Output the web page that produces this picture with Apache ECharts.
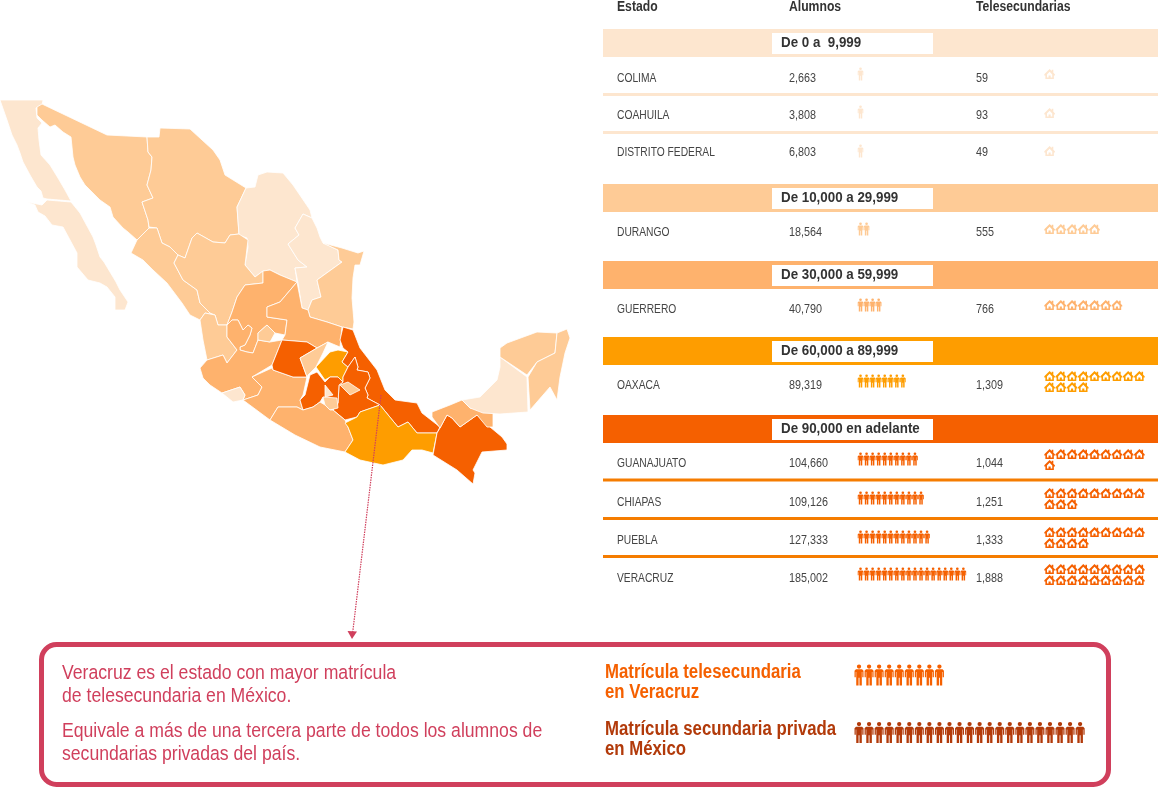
<!DOCTYPE html>
<html><head><meta charset="utf-8">
<style>html,body{margin:0;padding:0;background:#fff}#c{width:1159px;height:790px}</style>
<script src="https://cdn.jsdelivr.net/npm/echarts@6/dist/echarts.min.js"></script>
</head><body><div id="c"></div>
<script>
// ---------- data ----------
const bandLabels = ['De 0 a  9,999','De 10,000 a 29,999','De 30,000 a 59,999','De 60,000 a 89,999','De 90,000 en adelante'];
const bandColors = ['#FDE6CF','#FECB96','#FEB26D','#FE9D00','#F56000'];
const rowStates  = ['COLIMA','COAHUILA','DISTRITO FEDERAL','DURANGO','GUERRERO','OAXACA','GUANAJUATO','CHIAPAS','PUEBLA','VERACRUZ'];
const rowAlumnos = [2663,3808,6803,18564,40790,89319,104660,109126,127333,185002];
const rowTeles   = [59,93,49,555,766,1309,1044,1251,1333,1888];
const rowBand    = [0,0,0,1,2,3,4,4,4,4];
const peopleIcons= [1,1,1,2,4,8,10,11,12,18];
const houseIcons = [1,1,1,5,7,13,10,12,13,18];
const headers    = ['Estado','Alumnos','Telesecundarias'];
const calloutPeople = [9,23];

// state outlines (map geometry) and class index of each state
const stateShapes = {
 'Baja California':[[0,100],[43,100],[42,105],[36,108],[37,118],[42,123],[38,128],[39,140],[41,155],[50,165],[58,178],[65,190],[71,201],[47,199],[43,198],[41,191],[37,187],[30,175],[23,162],[20,153],[17,145],[12,135],[7,120]],
 'Baja California Sur':[[27,202],[35,205],[38,212],[45,216],[52,225],[63,227],[70,240],[77,253],[77,267],[88,280],[100,283],[107,287],[115,297],[115,310],[125,310],[128,302],[120,290],[116,282],[110,272],[104,262],[100,257],[96,245],[93,237],[80,213],[71,202],[47,200],[42,205]],
 'Sonora':[[37,107],[42,104],[107,135],[147,137],[148,152],[152,157],[151,170],[147,185],[153,198],[142,202],[148,220],[149,228],[137,240],[128,232],[123,228],[113,217],[110,207],[100,200],[93,193],[85,185],[80,177],[75,165],[73,157],[71,137],[63,132],[55,125],[50,127],[42,120],[37,115]],
 'Chihuahua':[[147,137],[159,137],[160,128],[190,129],[213,150],[220,160],[225,175],[246,188],[237,207],[239,234],[230,235],[225,243],[213,242],[197,233],[192,238],[185,258],[178,255],[170,247],[162,243],[157,228],[149,227],[148,220],[142,202],[153,198],[147,185],[151,170],[152,157],[148,152]],
 'Coahuila':[[246,188],[237,207],[239,235],[247,238],[248,247],[245,265],[255,277],[263,271],[270,270],[280,275],[297,282],[295,268],[307,267],[298,260],[288,244],[299,235],[295,228],[303,214],[312,218],[310,210],[293,185],[283,173],[267,172],[258,175],[255,187]],
 'Nuevo León':[[303,214],[312,218],[317,228],[320,237],[323,243],[338,250],[339,260],[342,262],[328,272],[317,280],[321,297],[312,300],[308,310],[302,308],[298,283],[295,268],[307,267],[298,260],[288,244],[299,235],[295,228]],
 'Tamaulipas':[[323,243],[342,248],[358,253],[364,251],[360,265],[355,265],[353,278],[352,298],[354,322],[353,329],[342,327],[327,322],[310,317],[308,310],[312,300],[321,297],[317,280],[342,262],[339,260],[338,250]],
 'Sinaloa':[[137,240],[131,253],[143,260],[153,270],[167,283],[182,303],[190,315],[200,320],[205,313],[215,315],[210,313],[200,303],[197,290],[190,285],[183,280],[174,263],[178,255],[170,247],[162,243],[157,228],[149,228]],
 'Durango':[[185,258],[192,238],[197,233],[213,242],[225,243],[230,235],[239,234],[248,240],[245,265],[255,277],[263,271],[263,283],[245,285],[237,297],[232,312],[227,325],[218,325],[215,315],[210,313],[200,303],[197,290],[190,285],[183,280],[174,263],[178,255]],
 'Nayarit':[[200,320],[205,313],[215,315],[218,325],[227,325],[227,337],[237,350],[227,363],[223,355],[207,360],[203,340]],
 'Zacatecas':[[263,271],[270,270],[280,275],[297,282],[280,302],[267,307],[267,317],[287,320],[285,335],[275,333],[267,325],[258,333],[258,340],[253,353],[247,352],[240,350],[240,347],[245,345],[250,335],[252,328],[248,325],[243,330],[238,320],[232,320],[227,325],[232,312],[237,297],[245,285],[263,283]],
 'San Luis Potosí':[[297,282],[298,283],[302,308],[308,310],[310,317],[327,322],[342,327],[340,347],[328,342],[317,348],[307,342],[282,340],[285,335],[287,320],[267,317],[267,307],[280,302]],
 'Jalisco':[[200,368],[207,360],[223,355],[227,363],[237,350],[227,337],[227,325],[232,320],[238,320],[243,330],[248,325],[252,328],[250,335],[245,345],[240,347],[240,350],[247,352],[253,353],[258,340],[270,342],[282,340],[272,365],[252,377],[262,387],[258,395],[243,400],[245,395],[240,387],[222,393],[210,385],[203,378]],
 'Colima':[[222,393],[240,387],[245,395],[243,400],[233,402]],
 'Michoacán':[[252,377],[272,368],[273,370],[293,377],[307,377],[303,395],[300,400],[303,410],[297,407],[278,407],[270,420],[243,400],[258,395],[262,387]],
 'Guanajuato':[[282,340],[272,365],[273,370],[293,377],[307,377],[300,358],[317,348],[307,342]],
 'Querétaro':[[300,358],[317,348],[328,342],[323,353],[316,367],[308,375],[307,377]],
 'Hidalgo':[[316,367],[330,352],[338,350],[348,352],[342,362],[348,367],[343,377],[343,382],[338,377],[330,377],[325,380]],
 'Veracruz':[[343,327],[353,330],[360,348],[377,370],[385,390],[395,400],[417,403],[422,413],[440,427],[437,433],[417,433],[408,422],[398,427],[380,405],[367,398],[368,395],[365,388],[370,378],[368,372],[357,370],[358,367],[355,357],[348,367],[342,362],[348,352],[343,348],[340,340]],
 'Puebla':[[348,367],[355,357],[358,367],[357,370],[368,372],[370,378],[365,388],[368,395],[367,398],[380,405],[360,412],[357,417],[345,420],[333,410],[338,403],[339,385],[343,382],[343,377]],
 'México':[[300,400],[305,395],[310,375],[317,372],[325,382],[330,377],[338,377],[343,382],[339,385],[338,403],[333,410],[330,400],[323,397],[320,402],[313,407],[303,410]],
 'Distrito Federal':[[325,385],[333,395],[325,397]],
 'Morelos':[[323,397],[337,398],[338,408],[330,410],[325,405]],
 'Tlaxcala':[[340,385],[348,382],[360,390],[350,395]],
 'Aguascalientes':[[258,333],[267,325],[275,333],[270,342],[258,340]],
 'Guerrero':[[270,420],[278,407],[297,407],[303,410],[313,407],[320,402],[325,405],[330,410],[333,410],[345,420],[348,427],[353,440],[345,452],[320,447],[295,435]],
 'Oaxaca':[[345,423],[357,417],[360,412],[380,405],[398,427],[408,422],[417,433],[437,433],[433,453],[422,450],[412,450],[403,460],[383,465],[360,460],[345,452],[353,440],[348,427]],
 'Chiapas':[[437,433],[440,428],[447,415],[452,418],[460,427],[477,415],[490,427],[502,437],[507,444],[507,450],[482,452],[473,470],[475,473],[473,484],[457,470],[433,455]],
 'Tabasco':[[432,412],[450,405],[462,400],[470,408],[483,410],[493,410],[493,427],[487,427],[477,415],[460,427],[452,418],[447,415],[440,428],[432,417]],
 'Campeche':[[500,357],[527,377],[528,412],[500,414],[483,413],[470,408],[462,400],[480,397],[497,380],[500,367]],
 'Yucatán':[[500,348],[507,343],[537,332],[557,333],[555,353],[537,362],[527,375],[500,357]],
 'Quintana Roo':[[557,333],[567,329],[570,338],[565,353],[560,377],[557,400],[550,387],[530,410],[528,377],[537,362],[555,353]]
};
const stateClass = {'Baja California':0,'Baja California Sur':0,'Sonora':1,'Chihuahua':1,'Coahuila':0,'Nuevo León':0,'Tamaulipas':1,'Sinaloa':1,'Durango':1,'Nayarit':1,'Zacatecas':2,'San Luis Potosí':2,'Jalisco':2,'Colima':0,'Michoacán':2,'Guanajuato':4,'Querétaro':1,'Hidalgo':3,'Veracruz':4,'Puebla':4,'México':4,'Distrito Federal':0,'Morelos':1,'Tlaxcala':1,'Aguascalientes':1,'Guerrero':2,'Oaxaca':3,'Chiapas':4,'Tabasco':2,'Campeche':0,'Yucatán':1,'Quintana Roo':1};

// ---------- layout ----------
const FONT = '"Liberation Sans",Arial,sans-serif';
const rowY = [77,114,151,231,308,384,462,501,539,577];
const peopleY = [74,112,151,229,305,381,459,498,537,574];
const houseY = [74,113,151,229,305,376,454,493,532,569];
const bandY = [29,184,261,337,415];
const sepY = [[94.5,0],[132.5,0],[480,4],[518.5,4],[556.5,4]];
const CRIMSON = '#D03F5C';
const PERSON = 'path://M5 0a2.4 2.4 0 1 1 -0.01 0zM1.6 5.4H8.4L10 7V14.5H8.6V8.6H8.1V24H5.5V15H4.5V24H1.9V8.6H1.4V14.5H0V7Z';
const HOUSE = 'path://M0 9.5L10 0L14 3.8V1.5H17V6.6L20 9.5V11.5H18V18H2V11.5H0ZM5 10V15.5H8V11.5H12V15.5H15V10L10 5Z';

const gfx = [];
function txt(x,y,s,o){gfx.push({type:'text',x,y:y+1,scaleX:o.sx,z:5,style:{text:s,x:0,y:0,fill:o.c||'#444',font:(o.b?'bold ':'')+o.s+'px '+FONT,textAlign:'left',textVerticalAlign:'middle'}});}
function rect(x,y,w,h,c){gfx.push({type:'rect',z:1,shape:{x,y,width:w,height:h},style:{fill:c}});}

headers.forEach((h,i)=>txt([617,789,976][i],6,h,{b:1,s:14,sx:.87,c:'#333'}));
bandLabels.forEach((l,i)=>{rect(603,bandY[i],555,28,bandColors[i]);rect(772,bandY[i]+4,161,21,'#fff');txt(781,bandY[i]+13,l,{b:1,s:15,sx:.89,c:'#333'});});
sepY.forEach(s=>rect(603,s[0]-1.5,555,3,s[1]==4?'#F57C00':bandColors[0]));
rowStates.forEach((n,i)=>{txt(617,rowY[i],n,{s:13.5,sx:.76});txt(789,rowY[i],rowAlumnos[i].toLocaleString('en-US'),{s:13.5,sx:.8});txt(976,rowY[i],rowTeles[i].toLocaleString('en-US'),{s:13.5,sx:.8});});

gfx.push({type:'rect',z:2,shape:{x:41.5,y:644.5,width:1067,height:140,r:15},style:{fill:'none',stroke:CRIMSON,lineWidth:5}});
const B={s:20.5,sx:.86,c:CRIMSON}, O={s:19.5,b:1,sx:.86,c:'#F56000'}, R={s:19.5,b:1,sx:.86,c:'#B23A0A'};
txt(62,672,'Veracruz es el estado con mayor matrícula',B);
txt(62,695,'de telesecundaria en México.',B);
txt(62,730,'Equivale a más de una tercera parte de todos los alumnos de',B);
txt(62,753,'secundarias privadas del país.',B);
txt(605,672,'Matrícula telesecundaria',O);
txt(605,692,'en Veracruz',O);
txt(605,729,'Matrícula secundaria privada',R);
txt(605,749,'en México',R);
gfx.push({type:'line',z:20,shape:{x1:381,y1:395,x2:352.5,y2:634},style:{stroke:CRIMSON,lineWidth:1.2,lineDash:[1.5,1]}});
gfx.push({type:'polygon',z:20,shape:{points:[[347.5,631],[357,631.5],[352,639]]},style:{fill:CRIMSON}});

// ---------- map registration ----------
const features = Object.keys(stateShapes).map(n=>({type:'Feature',properties:{name:n},geometry:{type:'Polygon',coordinates:[stateShapes[n].concat([stateShapes[n][0]])]}}));
echarts.registerMap('mx',{type:'FeatureCollection',features});
const allPts = Object.values(stateShapes).flat();
const minX=Math.min(...allPts.map(p=>p[0])),maxX=Math.max(...allPts.map(p=>p[0])),minY=Math.min(...allPts.map(p=>p[1])),maxY=Math.max(...allPts.map(p=>p[1]));

// ---------- grids ----------
const grid=[],xAxis=[],yAxis=[],series=[];
function addPict(left,top,w,h,max,cats,vals,sym,size,color){
  const i=grid.length;
  grid.push({left,top,width:w,height:h,containLabel:false});
  xAxis.push({gridIndex:i,type:'value',min:0,max,show:false});
  yAxis.push({gridIndex:i,type:'category',data:cats,inverse:true,show:false});
  series.push({type:'pictorialBar',xAxisIndex:i,yAxisIndex:i,silent:true,symbol:sym,symbolSize:size,symbolPosition:'start',symbolMargin:'1%!',itemStyle:{color},
    data:vals.map(v=>v>0?({value:v,symbolRepeat:v,symbolBoundingData:v}):'-')});
}
rowStates.forEach((n,i)=>{
  const c=bandColors[rowBand[i]];
  addPict(857.5,peopleY[i]-7,121,14,20,[n],[peopleIcons[i]],PERSON,[5.6,13],c);
  const h=houseIcons[i];
  addPict(1044,houseY[i]-5.5,101,22,9,['a','b'],[Math.min(h,9),Math.max(h-9,0)],HOUSE,[10.6,10],c);
});
addPict(854,664,241.2,22,24,['tele'],[calloutPeople[0]],PERSON,[9,21],'#F56000');
addPict(854,721.5,241.2,22,24,['priv'],[calloutPeople[1]],PERSON,[9,21],'#B23A0A');

series.push({type:'map',map:'mx',silent:true,selectedMode:false,
  projection:{project:p=>p,unproject:p=>p},
  left:minX,top:minY,width:maxX-minX,height:maxY-minY,
  label:{show:false},emphasis:{disabled:true},
  itemStyle:{borderColor:'#fff',borderWidth:0.8},
  data:Object.keys(stateClass).map(n=>({name:n,value:stateClass[n]}))});

const chart=echarts.init(document.getElementById('c'),null,{renderer:'canvas'});
chart.setOption({animation:false,backgroundColor:'#fff',tooltip:{show:false},grid,xAxis,yAxis,series,
  visualMap:{show:false,type:'piecewise',seriesIndex:series.length-1,pieces:bandColors.map((color,i)=>({value:i,color}))},
  graphic:{elements:gfx}});
</script></body></html>
